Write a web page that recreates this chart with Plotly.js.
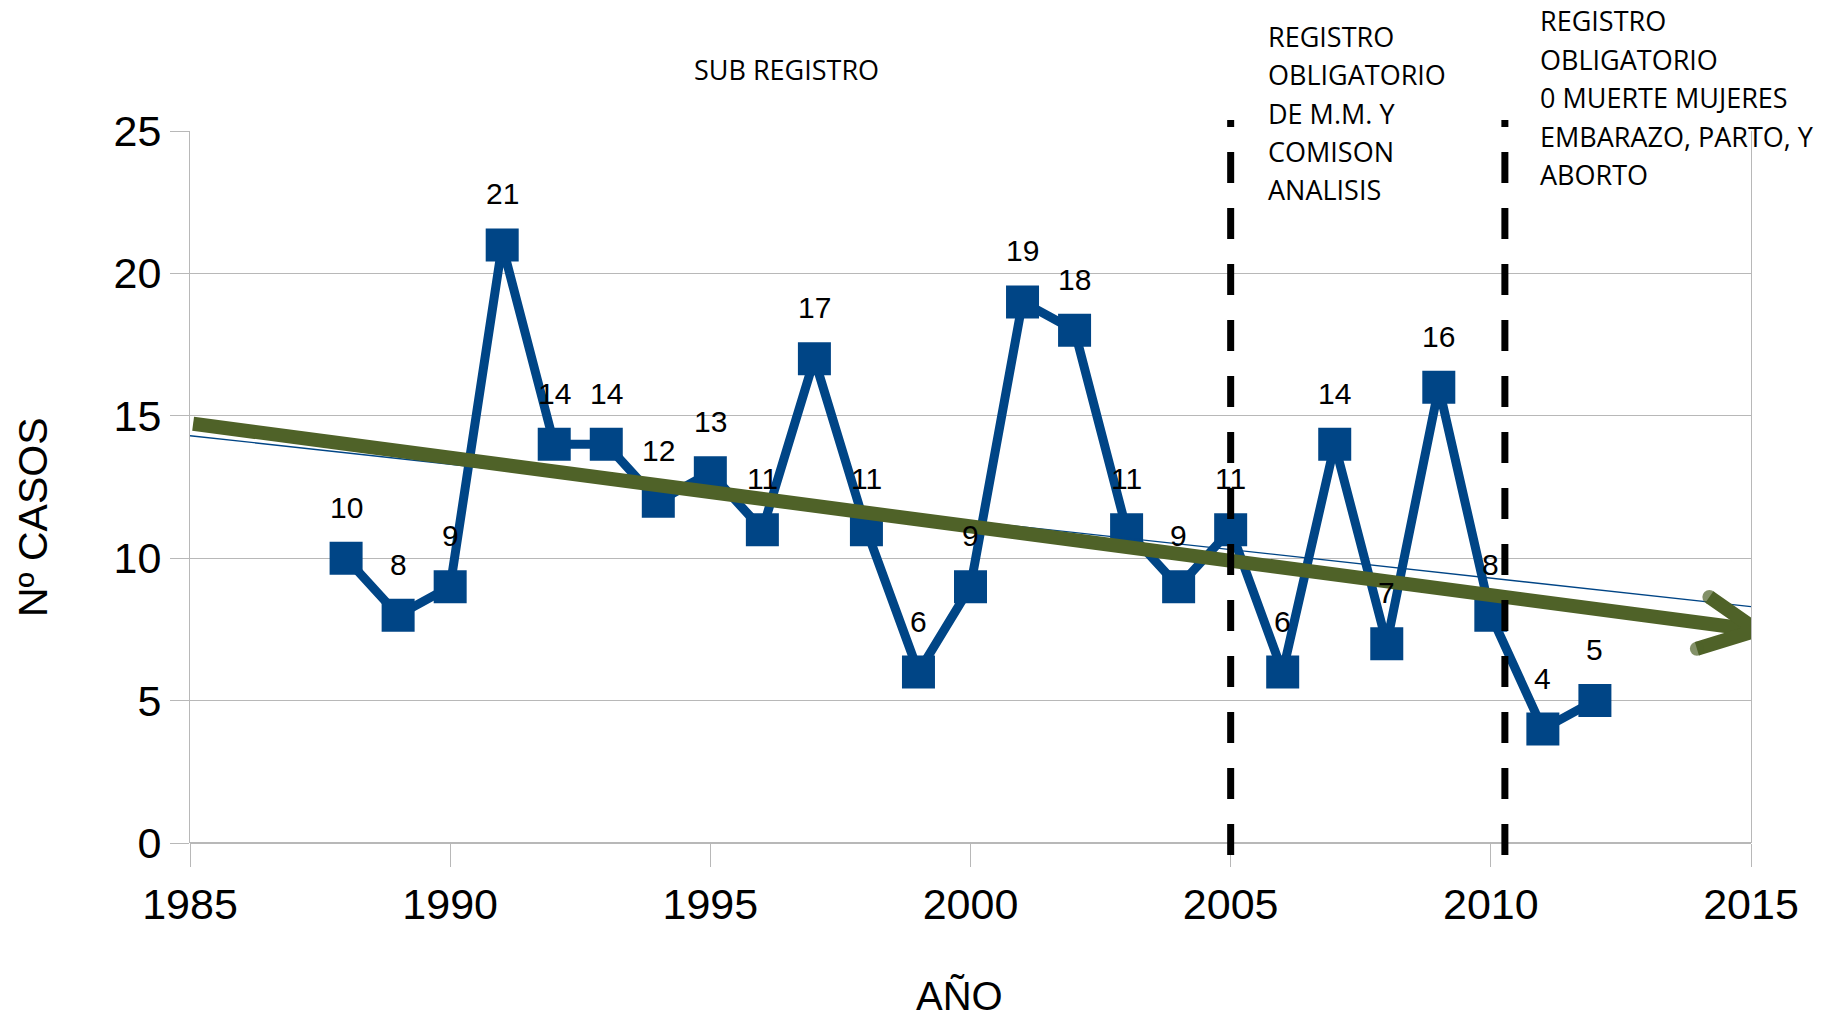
<!DOCTYPE html>
<html><head><meta charset="utf-8">
<script src="https://cdn.plot.ly/plotly-3.0.1.min.js"></script>
<style>html,body{margin:0;padding:0;background:#fff;}#chart{width:1827px;height:1021px;}</style>
</head><body><div id="chart"></div>
<script>
// ---- data ----
const years = [1988,1989,1990,1991,1992,1993,1994,1995,1996,1997,1998,1999,2000,2001,2002,2003,2004,2005,2006,2007,2008,2009,2010,2011,2012];
const cases = [10,8,9,21,14,14,12,13,11,17,11,6,9,19,18,11,9,11,6,14,7,16,8,4,5];
const trendYears = [1985, 2015];
const trendCases = [14.3, 8.3];
const arrowYears = [1985.06, 2015.12];
const arrowCases = [14.72, 7.47];
const arrowHeadYears = [2014.2, 2015.12, 2013.96];
const arrowHeadCases = [8.64, 7.47, 6.82];
const periodBreakYears = [2005.0, 2010.27];
const xTickVals = [1985,1990,1995,2000,2005,2010,2015];
const yTickVals = [0,5,10,15,20,25];
const noteSub = ['SUB REGISTRO'];
const note2005 = ['REGISTRO','OBLIGATORIO','DE M.M. Y','COMISON','ANALISIS'];
const note2010 = ['REGISTRO','OBLIGATORIO','0 MUERTE MUJERES','EMBARAZO, PARTO, Y','ABORTO'];
const xTitle = 'AÑO';
const yTitle = 'Nº CASOS';

// ---- styling / layout ----
const W = 1827, H = 1021;
const L = 190, R = 1751, T = 131, B = 843;
const px2x = p => (p - L) / (R - L);
const px2y = p => (B - p) / (B - T);
const blue = '#004586';
const green = '#4f6228';
const grid = '#b8b8b8';
const arial = 'Liberation Sans, Arial, sans-serif';
const noteFont = {family: 'Open Sans, sans-serif', size: 27, color: '#000'};

const traces = [
  {x: years, y: cases, mode: 'lines+markers', type: 'scatter',
   line: {color: blue, width: 9},
   marker: {symbol: 'square', size: 33, color: blue},
   cliponaxis: false, hoverinfo: 'skip'},
  {x: trendYears, y: trendCases, mode: 'lines', type: 'scatter',
   line: {color: blue, width: 1.3}, hoverinfo: 'skip'},
  {x: arrowYears, y: arrowCases, mode: 'lines', type: 'scatter',
   line: {color: green, width: 14}, hoverinfo: 'skip'},
  {x: arrowHeadYears, y: arrowHeadCases, mode: 'lines+markers', type: 'scatter',
   line: {color: green, width: 14},
   marker: {color: green, size: [14, 0, 14], line: {width: 0}},
   cliponaxis: false, hoverinfo: 'skip'}
];

const annotations = [];
years.forEach((yr, i) => {
  annotations.push({x: yr, y: cases[i], xref: 'x', yref: 'y', text: String(cases[i]),
    showarrow: false, yshift: 51, xanchor: 'center', yanchor: 'middle',
    font: {family: arial, size: 30, color: '#000'}});
});
const addBlock = (lines, left, centers) => {
  lines.forEach((t, i) => annotations.push({xref: 'paper', yref: 'paper',
    x: px2x(left), y: px2y(centers[i]), text: t, showarrow: false,
    xanchor: 'left', yanchor: 'middle', font: noteFont}));
};
addBlock(noteSub, 692, [69]);
addBlock(note2005, 1266, [36, 74.6, 113, 151.5, 190]);
addBlock(note2010, 1538, [21, 59.4, 97.9, 136.3, 174.8]);
annotations.push({xref: 'paper', yref: 'paper', x: px2x(959), y: px2y(996), text: xTitle,
  showarrow: false, xanchor: 'center', yanchor: 'middle', font: {family: arial, size: 40, color: '#000'}});
annotations.push({xref: 'paper', yref: 'paper', x: px2x(33), y: px2y(517), text: yTitle, textangle: -90,
  showarrow: false, xanchor: 'center', yanchor: 'middle', font: {family: arial, size: 41, color: '#000'}});

const shapes = periodBreakYears.map(yr => ({type: 'line', xref: 'x', yref: 'paper',
  x0: yr, x1: yr, y0: px2y(855), y1: px2y(120),
  line: {color: '#000', width: 7, dash: '31px,25px'}, layer: 'above'}));

const layout = {
  width: W, height: H,
  margin: {l: L, r: W - R, t: T, b: H - B, pad: 0},
  paper_bgcolor: '#fff', plot_bgcolor: '#fff',
  showlegend: false, hovermode: false,
  font: {family: arial, color: '#000'},
  xaxis: {range: [1985, 2015], tickvals: xTickVals, ticktext: xTickVals.map(String),
    showgrid: false, zeroline: false, showline: false,
    ticks: 'outside', ticklen: 23, tickcolor: grid, tickwidth: 1,
    tickfont: {family: arial, size: 43, color: '#000'}, fixedrange: true},
  yaxis: {range: [0, 25], tickvals: yTickVals, ticktext: yTickVals.map(String),
    showgrid: true, gridcolor: grid, gridwidth: 1, zeroline: true, zerolinecolor: grid, zerolinewidth: 2,
    showline: true, mirror: true, linecolor: grid, linewidth: 1,
    ticks: 'outside', ticklen: 19, tickcolor: grid, tickwidth: 1,
    tickfont: {family: arial, size: 43, color: '#000'}, fixedrange: true},
  annotations: annotations,
  shapes: shapes
};

Plotly.newPlot('chart', traces, layout, {displayModeBar: false, staticPlot: true});
</script>
</body></html>
